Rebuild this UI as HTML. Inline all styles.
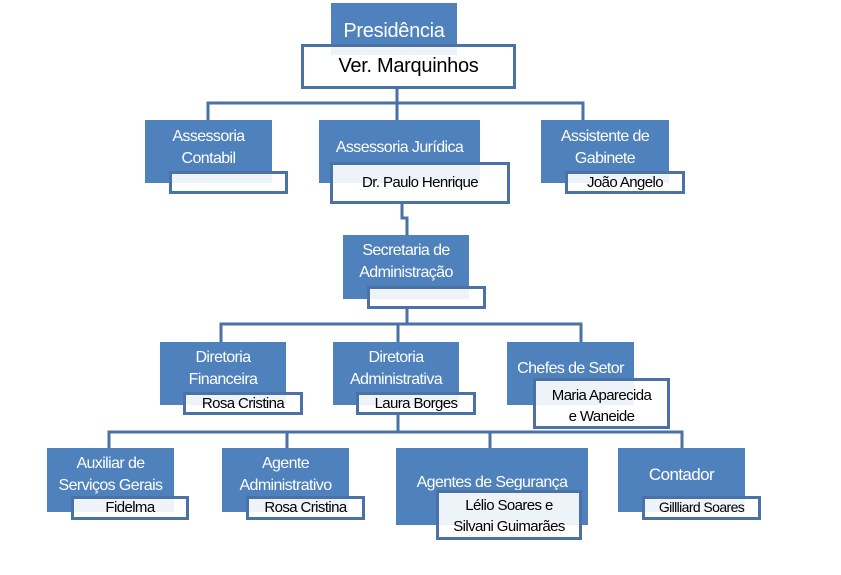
<!DOCTYPE html>
<html><head><meta charset="utf-8"><style>
body{margin:0;width:841px;height:575px;background:#fff;position:relative;overflow:hidden;font-family:"Liberation Sans",sans-serif}
.b{position:absolute;background:#4f81bd;color:#fff;font-size:16px;text-align:center;line-height:22px;letter-spacing:-0.6px;white-space:nowrap}
.w{position:absolute;background:rgba(255,255,255,0.9);border:3px solid #4a72a6;box-sizing:border-box;color:#000;font-size:15px;text-align:center;line-height:17px;letter-spacing:-0.6px;white-space:nowrap}
svg{position:absolute;left:0;top:0}
</style></head><body>
<svg width="841" height="575"><g stroke="#4a72a6" stroke-width="3" fill="none">
<path d="M397 88V103M208 120V103H583V120M397 103V120"/>
<path d="M402 202V218H407V235"/>
<path d="M407 308V324M221 342V324H581V342M398 324V342"/>
<path d="M398 414V432M109 448V432H682V448M287 432V448M490 432V448"/>
</g></svg>

<div class="b" style="left:331px;top:3px;width:126px;height:52px;font-size:20px;line-height:56px;letter-spacing:-0.3px">Presidência</div>
<div class="w" style="left:301px;top:44px;width:215px;height:45px;font-size:20px;line-height:39px;letter-spacing:-0.3px">Ver. Marquinhos</div>

<div class="b" style="left:145px;top:120px;width:127px;height:63px;padding-top:6px;box-sizing:border-box">Assessoria<br>Contabil</div>
<div class="w" style="left:169px;top:171px;width:119px;height:23px"></div>

<div class="b" style="left:319px;top:120px;width:161px;height:63px;padding-top:17px;box-sizing:border-box">Assessoria Jurídica</div>
<div class="w" style="left:330px;top:162px;width:180px;height:42px;line-height:36px">Dr. Paulo Henrique</div>

<div class="b" style="left:541px;top:120px;width:128px;height:63px;padding-top:6px;box-sizing:border-box">Assistente de<br>Gabinete</div>
<div class="w" style="left:565px;top:171px;width:120px;height:23px">João Angelo</div>

<div class="b" style="left:343px;top:235px;width:126px;height:64px;padding-top:5px;box-sizing:border-box">Secretaria de<br>Administração</div>
<div class="w" style="left:367px;top:286px;width:119px;height:23px"></div>

<div class="b" style="left:160px;top:342px;width:126px;height:63px;padding-top:5px;box-sizing:border-box">Diretoria<br>Financeira</div>
<div class="w" style="left:183px;top:392px;width:120px;height:23px">Rosa Cristina</div>

<div class="b" style="left:333px;top:342px;width:126px;height:63px;padding-top:5px;box-sizing:border-box">Diretoria<br>Administrativa</div>
<div class="w" style="left:356px;top:392px;width:120px;height:23px">Laura Borges</div>

<div class="b" style="left:507px;top:342px;width:127px;height:63px;padding-top:16px;box-sizing:border-box">Chefes de Setor</div>
<div class="w" style="left:533px;top:378px;width:137px;height:51px;padding-top:4px;line-height:21px">Maria Aparecida<br>e Waneide</div>

<div class="b" style="left:47px;top:448px;width:127px;height:64px;padding-top:5px;box-sizing:border-box">Auxiliar de<br>Serviços Gerais</div>
<div class="w" style="left:71px;top:496px;width:118px;height:24px">Fidelma</div>

<div class="b" style="left:222px;top:448px;width:127px;height:64px;padding-top:5px;box-sizing:border-box">Agente<br>Administrativo</div>
<div class="w" style="left:246px;top:496px;width:119px;height:24px">Rosa Cristina</div>

<div class="b" style="left:396px;top:448px;width:192px;height:77px;padding-top:24px;box-sizing:border-box">Agentes de Segurança</div>
<div class="w" style="left:436px;top:490px;width:146px;height:50px;padding-top:2px;line-height:21px">Lélio Soares e<br>Silvani Guimarães</div>

<div class="b" style="left:618px;top:448px;width:127px;height:64px;padding-top:16px;box-sizing:border-box;font-size:17px">Contador</div>
<div class="w" style="left:642px;top:496px;width:119px;height:24px;font-size:14px">Gillliard Soares</div>
</body></html>
